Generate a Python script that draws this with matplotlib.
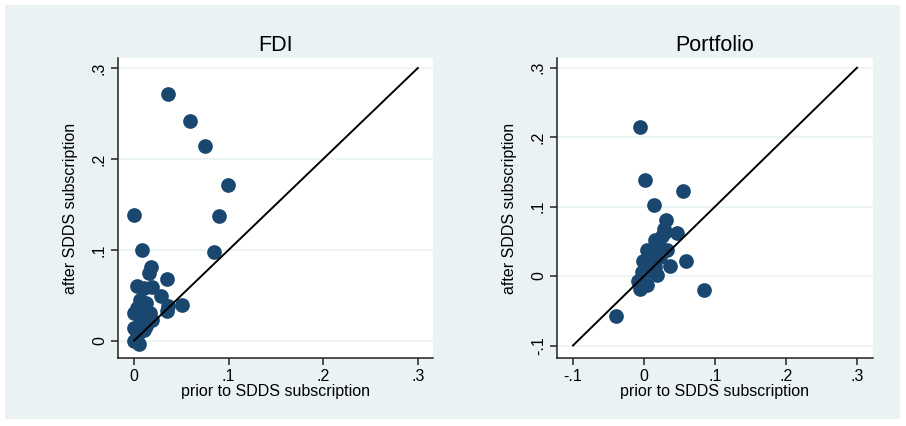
import numpy as np
import matplotlib
matplotlib.use("Agg")
from matplotlib import pyplot as plt
from matplotlib.patches import Rectangle

plt.rcParams['font.family'] = ['Liberation Sans', 'DejaVu Sans']

# FDI panel: share prior to / after SDDS subscription
fdi_prior = [0.036, 0.059, 0.075, 0.099, 0.090, 0.084, 0.000, 0.008, 0.018, 0.016,
             0.035, 0.003, 0.019, 0.011, 0.028, 0.051, 0.035, 0.036, 0.006, 0.013,
             0.017, 0.000, 0.010, 0.019, 0.000, 0.010, 0.003, 0.000, 0.005, 0.006,
             0.013, 0.003]
fdi_after = [0.271, 0.242, 0.214, 0.171, 0.137, 0.098, 0.138, 0.100, 0.081, 0.075,
             0.068, 0.060, 0.059, 0.058, 0.049, 0.039, 0.033, 0.038, 0.045, 0.041,
             0.030, 0.030, 0.027, 0.023, 0.014, 0.012, 0.005, 0.000, -0.004, 0.020,
             0.016, 0.036]

# Portfolio panel
port_prior = [-0.005, 0.001, 0.055, 0.014, 0.031, 0.028, 0.047, 0.016, 0.020, 0.004,
              0.013, -0.001, 0.009, 0.022, 0.032, 0.059, 0.037, 0.018, -0.003, -0.009,
              -0.006, 0.004, 0.084, -0.039, 0.009, 0.016, 0.025, 0.029, 0.004]
port_after = [0.215, 0.139, 0.123, 0.103, 0.081, 0.068, 0.062, 0.052, 0.048, 0.038,
              0.033, 0.021, 0.018, 0.027, 0.038, 0.021, 0.014, 0.001, 0.006, -0.007,
              -0.018, -0.013, -0.020, -0.057, 0.008, 0.013, 0.058, 0.064, 0.025]

navy = '#1a476f'
bg = '#eaf2f3'

fig = plt.figure(figsize=(9.06, 4.26), dpi=100)
fig.patch.set_facecolor('white')
fig.patches.append(Rectangle((5 / 906, 7 / 426), 895 / 906, 414 / 426,
                             transform=fig.transFigure, facecolor=bg,
                             edgecolor='none', zorder=-10))


def panel(rect, px, py, title, lo, xt, yt, xl, yl):
    ax = fig.add_axes(rect)
    ax.set_facecolor('white')
    ax.scatter(px, py, s=112, color=navy, zorder=3, linewidths=0)
    ax.plot([lo, 0.3], [lo, 0.3], color='black', lw=1.4, zorder=4)
    ax.set_xlim(xl)
    ax.set_ylim(yl)
    ax.set_xticks(xt)
    ax.set_yticks(yt)
    fmt = lambda v: '0' if abs(v) < 1e-9 else ('%.1f' % v).replace('0.', '.')
    ax.set_xticklabels([fmt(v) for v in xt], fontsize=11.5)
    ax.set_yticklabels([fmt(v) for v in yt], fontsize=11.5, rotation=90, va='center')
    ax.grid(axis='y', color=bg, lw=1.2, zorder=0)
    ax.set_axisbelow(True)
    for s in ['top', 'right']:
        ax.spines[s].set_visible(False)
    for s in ['left', 'bottom']:
        ax.spines[s].set_color('#222222')
        ax.spines[s].set_linewidth(1.1)
    ax.tick_params(direction='out', length=5, width=1.1, color='#222222', pad=3)
    ax.set_xlabel('prior to SDDS subscription', fontsize=11.5, labelpad=0)
    ax.set_ylabel('after SDDS subscription', fontsize=11.5, labelpad=10)
    ax.set_title(title, fontsize=15.5, pad=5)
    return ax


panel([118 / 906, 68 / 426, 315 / 906, 300 / 426], fdi_prior, fdi_after, 'FDI', 0.0,
      [0, 0.1, 0.2, 0.3], [0, 0.1, 0.2, 0.3], (-0.017, 0.316), (-0.019, 0.311))
panel([557 / 906, 68 / 426, 316 / 906, 300 / 426], port_prior, port_after, 'Portfolio', -0.1,
      [-0.1, 0, 0.1, 0.2, 0.3], [-0.1, 0, 0.1, 0.2, 0.3], (-0.1225, 0.3225), (-0.118, 0.314))

fig.savefig('out.png', dpi=100, facecolor=fig.get_facecolor())
